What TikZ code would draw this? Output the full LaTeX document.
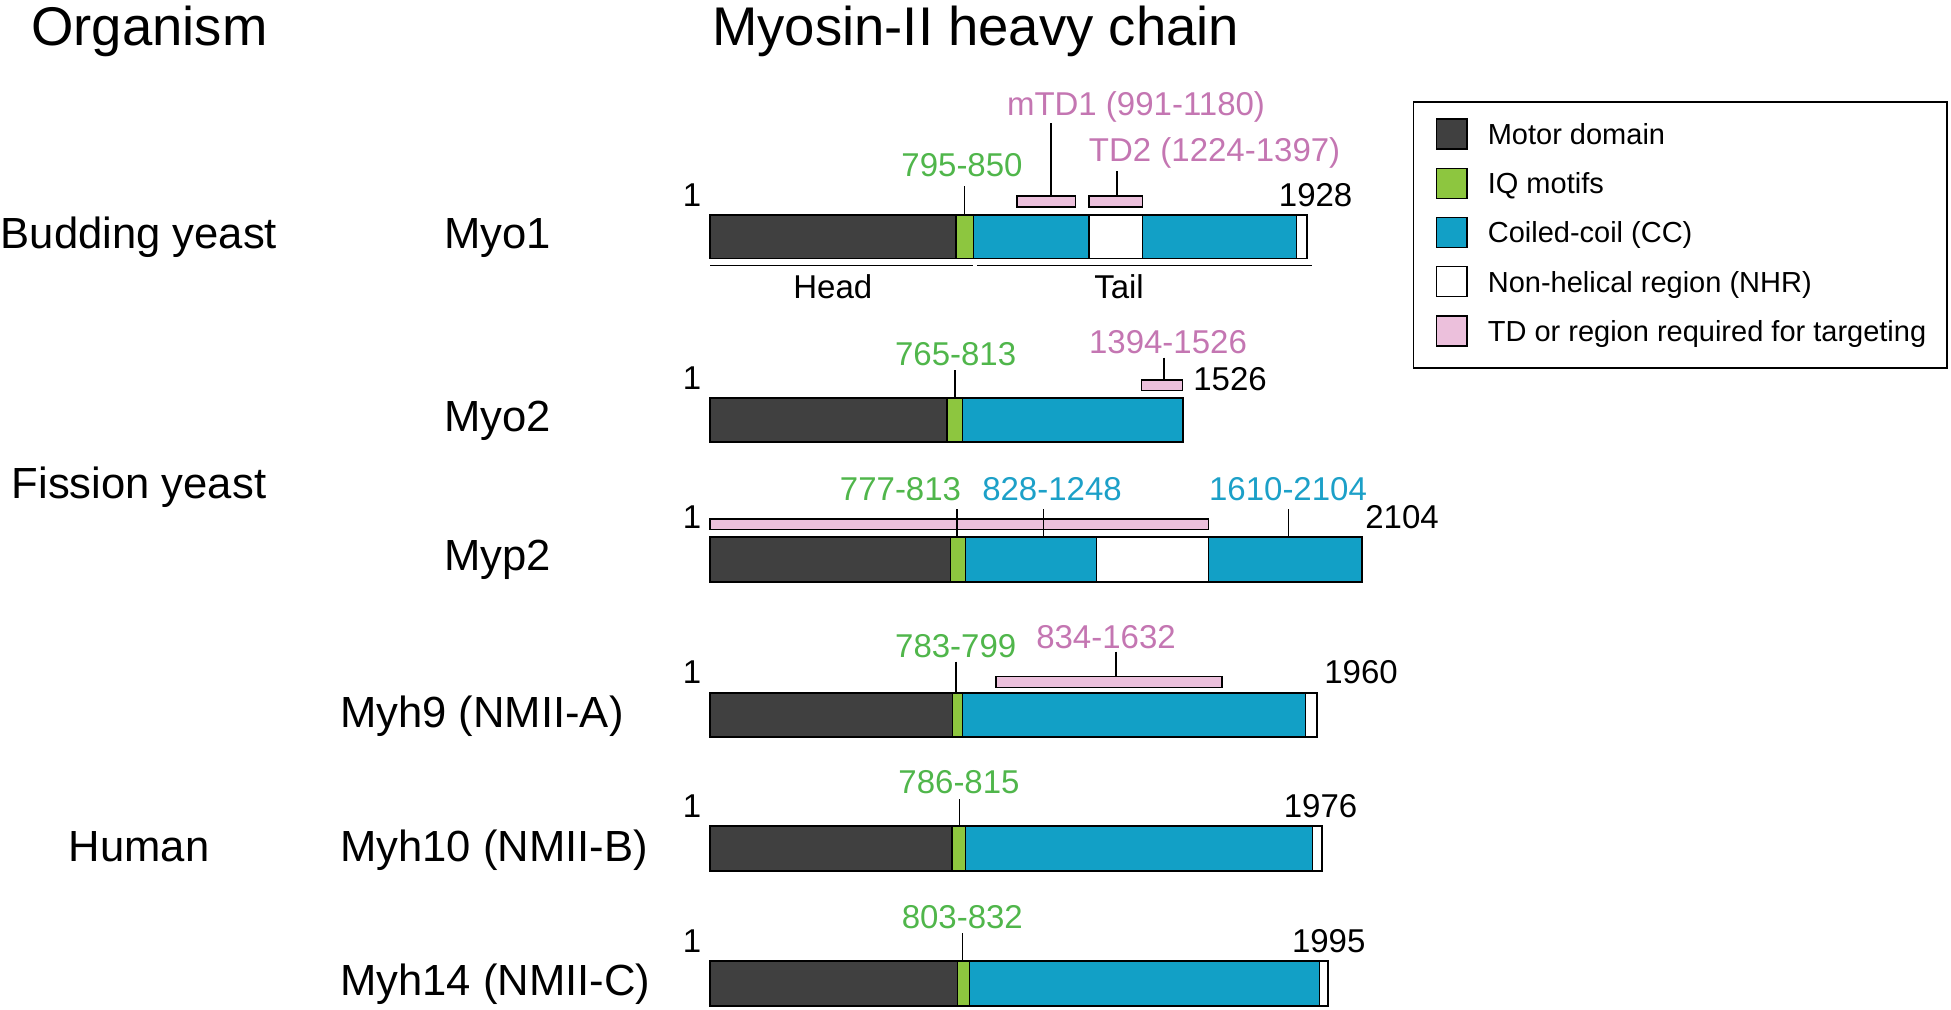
\documentclass[tikz,border=0pt]{standalone}
\usepackage{fontspec}
\setmainfont{Liberation Sans}
\definecolor{motor}{RGB}{64,64,64}
\definecolor{iq}{RGB}{141,198,63}
\definecolor{cc}{RGB}{18,160,198}
\definecolor{td}{RGB}{236,192,220}
\definecolor{tdtext}{RGB}{196,118,178}
\definecolor{iqtext}{RGB}{80,182,75}
\definecolor{cctext}{RGB}{28,160,200}
\newcommand{\resx}[1]{710+0.3097*(#1)}
\newcommand{\seg}[5]{\filldraw[barseg,fill=#5] ({\resx{#1}},#3) rectangle ({\resx{#2}},#4);}
\begin{document}
\begin{tikzpicture}[x=1pt,y=-1pt,
  barseg/.style={draw=black,line width=1.5pt},
  barframe/.style={draw=black,line width=1.8pt},
  tdbox/.style={draw=black,line width=1.5pt,fill=td},
  tickline/.style={draw=black,line width=1.3pt},
  num/.style={font=\fontsize{33}{36}\selectfont,inner sep=0pt,anchor=base},
  lab/.style={font=\fontsize{43.6}{48}\selectfont,inner sep=0pt,anchor=base},
  labw/.style={lab,anchor=base west},
  ttl/.style={font=\fontsize{54.5}{60}\selectfont,inner sep=0pt,anchor=base west},
  leg/.style={font=\fontsize{29}{32}\selectfont,inner sep=0pt,anchor=base west},
  swatch/.style={draw=black,line width=1.5pt}]
\useasboundingbox (0,0) rectangle (1951,1009);

% titles
\node[ttl] (tOrg) at (31,45) {Organism};
\node[ttl] (tMyo) at (712,45) {Myosin-II heavy chain};

% organism labels
\node[lab] (oBud) at (139,248.3) {Budding yeast};
\node[lab] (oFis) at (139,498.5) {Fission yeast};
\node[lab] (oHum) at (139,861.7) {Human};

% protein labels
\node[labw] (pMyo1) at (444,248.3) {Myo1};
\node[labw] (pMyo2) at (444,431.5) {Myo2};
\node[labw] (pMyp2) at (444,570.5) {Myp2};
\node[labw] (pMyh9) at (340,727) {Myh9 (NMII-A)};
\node[labw] (pMyh10) at (340,861.7) {Myh10 (NMII-B)};
\node[labw] (pMyh14) at (340,995) {Myh14 (NMII-C)};

% ---------------- Myo1 ----------------
\seg{0}{795}{215}{258.5}{motor}
\seg{795}{850}{215}{258.5}{iq}
\seg{850}{1224}{215}{258.5}{cc}
\seg{1224}{1397}{215}{258.5}{white}
\seg{1397}{1893}{215}{258.5}{cc}
\seg{1893}{1928}{215}{258.5}{white}
\draw[barframe] (710,215) rectangle ({\resx{1928}},258.5);
\draw[tdbox] ({\resx{991}},196) rectangle ({\resx{1180}},207);
\draw[tdbox] ({\resx{1224}},196) rectangle ({\resx{1397}},207);
\draw[tickline] (964.3,186) -- (964.3,215);
\draw[tickline] (1051,123) -- (1051,196);
\draw[tickline] (1117,171) -- (1117,196);
\node[num,text=tdtext] (m1a) at (1136,115.5) {mTD1 (991-1180)};
\node[num,text=tdtext] (m1b) at (1214.6,161) {TD2 (1224-1397)};
\node[num,text=iqtext] (m1c) at (962,176.8) {795-850};
\node[num] (m1s) at (692,206.5) {1};
\node[num] (m1e) at (1315.6,206.5) {1928};
\draw[line width=1.4pt] (710,265.7) -- (972.6,265.7);
\draw[line width=1.4pt] (977,265.7) -- (1312,265.7);
\node[num] (head) at (832.8,298) {Head};
\node[num] (tail) at (1119,298) {Tail};

% ---------------- Myo2 ----------------
\seg{0}{765}{397.7}{442.3}{motor}
\seg{765}{815}{397.7}{442.3}{iq}
\seg{815}{1526}{397.7}{442.3}{cc}
\draw[barframe] (710,397.7) rectangle ({\resx{1526}},442.3);
\draw[tdbox] ({\resx{1394}},380) rectangle ({\resx{1526}},390.7);
\draw[tickline] (955,370) -- (955,397.7);
\draw[tickline] (1164,357.7) -- (1164,380);
\node[num,text=iqtext] (m2a) at (955.6,365) {765-813};
\node[num,text=tdtext] (m2b) at (1168,353.5) {1394-1526};
\node[num] (m2s) at (692,389.5) {1};
\node[num] (m2e) at (1230,390) {1526};

% ---------------- Myp2 ----------------
\seg{0}{777}{537.3}{581.7}{motor}
\seg{777}{825}{537.3}{581.7}{iq}
\seg{825}{1248}{537.3}{581.7}{cc}
\seg{1248}{1610}{537.3}{581.7}{white}
\seg{1610}{2104}{537.3}{581.7}{cc}
\draw[barframe] (710,537.3) rectangle ({\resx{2104}},581.7);
\draw[tdbox] (710,519) rectangle ({\resx{1610}},529.3);
\draw[tickline] (957,509.3) -- (957,537.3);
\draw[tickline] (1043.5,509.3) -- (1043.5,537.3);
\draw[tickline] (1288.5,509.3) -- (1288.5,537.3);
\node[num,text=iqtext] (p2a) at (900.5,500) {777-813};
\node[num,text=cctext] (p2b) at (1052,500) {828-1248};
\node[num,text=cctext] (p2c) at (1288,500) {1610-2104};
\node[num] (p2s) at (692,528.5) {1};
\node[num] (p2e) at (1402,528.5) {2104};

% ---------------- Myh9 ----------------
\seg{0}{783}{692.7}{737.3}{motor}
\seg{783}{815}{692.7}{737.3}{iq}
\seg{815}{1923}{692.7}{737.3}{cc}
\seg{1923}{1960}{692.7}{737.3}{white}
\draw[barframe] (710,692.7) rectangle ({\resx{1960}},737.3);
\draw[tdbox] (996,676.7) rectangle (1222,687.3);
\draw[tickline] (956,661.7) -- (956,692.7);
\draw[tickline] (1116,651.7) -- (1116,676.7);
\node[num,text=iqtext] (h9a) at (955.7,657) {783-799};
\node[num,text=tdtext] (h9b) at (1106,648.5) {834-1632};
\node[num] (h9s) at (692,683.5) {1};
\node[num] (h9e) at (1361,683.5) {1960};

% ---------------- Myh10 ----------------
\seg{0}{781}{826}{870.7}{motor}
\seg{781}{825}{826}{870.7}{iq}
\seg{825}{1945}{826}{870.7}{cc}
\seg{1945}{1976}{826}{870.7}{white}
\draw[barframe] (710,826) rectangle ({\resx{1976}},870.7);
\draw[tickline] (959.5,799.3) -- (959.5,826);
\node[num,text=iqtext] (h10a) at (959,793.5) {786-815};
\node[num] (h10s) at (692,817) {1};
\node[num] (h10e) at (1320.5,817) {1976};

% ---------------- Myh14 ----------------
\seg{0}{799}{961}{1005.7}{motor}
\seg{799}{838}{961}{1005.7}{iq}
\seg{838}{1968}{961}{1005.7}{cc}
\seg{1968}{1995}{961}{1005.7}{white}
\draw[barframe] (710,961) rectangle ({\resx{1995}},1005.7);
\draw[tickline] (962.5,933.3) -- (962.5,961);
\node[num,text=iqtext] (h14a) at (962.3,928) {803-832};
\node[num] (h14s) at (692,952) {1};
\node[num] (h14e) at (1328.7,952) {1995};

% ---------------- Legend ----------------
\draw[line width=1.5pt] (1413.5,102) rectangle (1947,368);
\filldraw[swatch,fill=motor] (1436.4,119) rectangle (1467,149);
\filldraw[swatch,fill=iq] (1436.4,168.3) rectangle (1467,198.3);
\filldraw[swatch,fill=cc] (1436.4,217.7) rectangle (1467,247.3);
\filldraw[swatch,fill=white] (1436.4,266.7) rectangle (1467,296.7);
\filldraw[swatch,fill=td] (1436.4,316) rectangle (1467,346);
\node[leg] (l1) at (1487.6,144.4) {Motor domain};
\node[leg] (l2) at (1487.6,193.7) {IQ motifs};
\node[leg] (l3) at (1487.6,242.9) {Coiled-coil (CC)};
\node[leg] (l4) at (1487.6,292.1) {Non-helical region (NHR)};
\node[leg] (l5) at (1487.6,341.4) {TD or region required for targeting};
\end{tikzpicture}
\end{document}
